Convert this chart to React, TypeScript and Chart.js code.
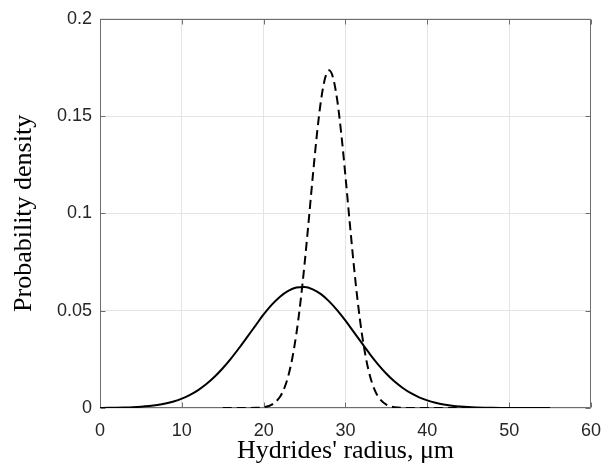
import React, { useEffect, useRef } from "react";
import { Chart, registerables } from "chart.js";

Chart.register(...registerables);

// Solid curve: x (µm) and probability density
const solidX = [
  0, 1, 2, 3, 4, 5, 6, 7, 8, 9, 10, 11, 12, 13, 14, 15, 16, 17, 18, 19, 20,
  21, 22, 23, 24, 25, 26, 27, 28, 29, 30, 31, 32, 33, 34, 35, 36, 37, 38, 39,
  40, 41, 42, 43, 44, 45, 46, 47, 48, 49, 50, 51, 52, 53, 54, 55,
];
const solidY = [
  0.00005, 0.00008, 0.00014, 0.00024, 0.00039, 0.00063, 0.00099, 0.00153,
  0.0023, 0.00337, 0.00482, 0.00675, 0.00922, 0.01231, 0.01605, 0.02043,
  0.0254, 0.03084, 0.03657, 0.04235, 0.0481, 0.0531, 0.0572, 0.0602, 0.0619,
  0.0622, 0.061, 0.0585, 0.0548, 0.0502, 0.0449, 0.0391, 0.0333, 0.0276,
  0.0223, 0.0176, 0.0136, 0.0103, 0.0076, 0.0055, 0.0039, 0.0027, 0.0018,
  0.0012, 0.00076, 0.00047, 0.00029, 0.00017, 0.0001, 0.00006, 0.00003,
  0.00002, 0.00001, 0.00001, 0.0, 0.0,
];

// Dashed curve
const dashedX = [
  15, 16, 17, 18, 19, 20, 21, 22, 22.5, 23, 23.5, 24, 24.5, 25, 25.5, 26,
  26.5, 27, 27.5, 28, 28.5, 29, 29.5, 30, 30.5, 31, 31.5, 32, 32.5, 33, 33.5,
  34, 35, 36, 37, 38, 39, 40, 41, 42, 43, 44, 45,
];
const dashedY = [
  0.0, 0.0, 0.0, 0.00001, 0.00008, 0.00041, 0.00169, 0.00578, 0.00995,
  0.01633, 0.0256, 0.03824, 0.0545, 0.0741, 0.0961, 0.1189, 0.1403, 0.1579,
  0.1694, 0.1735, 0.1694, 0.1579, 0.1403, 0.1189, 0.0961, 0.0741, 0.0545,
  0.03824, 0.0256, 0.01633, 0.00995, 0.00578, 0.00169, 0.00041, 0.00008,
  0.00001, 0.0, 0.0, 0.0, 0.0, 0.0, 0.0, 0.0,
];

const xTicks = [0, 10, 20, 30, 40, 50, 60];
const yTicks = [0, 0.05, 0.1, 0.15, 0.2];
const yTickLabels = ["0", "0.05", "0.1", "0.15", "0.2"];

const xTitle = "Hydrides' radius, \u03bcm";
const yTitle = "Probability density";

const AXIS_COLOR = "#6e6e6e";
const TICK_LEN = 5;

const boxPlugin = {
  id: "matlabBox",
  beforeDatasetsDraw(chart: any) {
    const { ctx, chartArea, scales } = chart;
    const { left, right, top, bottom } = chartArea;
    ctx.save();
    ctx.strokeStyle = AXIS_COLOR;
    ctx.lineWidth = 1;
    ctx.beginPath();
    const L = Math.round(left) + 0.5;
    const R = Math.round(right) - 0.5;
    const T = Math.round(top) + 0.5;
    const B = Math.round(bottom) - 0.5;
    ctx.rect(L, T, R - L, B - T);
    // inward ticks
    xTicks.forEach((v) => {
      const px = Math.round(scales.x.getPixelForValue(v)) + 0.5;
      ctx.moveTo(px, B);
      ctx.lineTo(px, B - TICK_LEN);
      ctx.moveTo(px, T);
      ctx.lineTo(px, T + TICK_LEN);
    });
    yTicks.forEach((v) => {
      const py = Math.round(scales.y.getPixelForValue(v)) + 0.5;
      ctx.moveTo(L, py);
      ctx.lineTo(L + TICK_LEN, py);
      ctx.moveTo(R, py);
      ctx.lineTo(R - TICK_LEN, py);
    });
    ctx.stroke();
    ctx.restore();
  },
};

export default function App() {
  const canvasRef = useRef<HTMLCanvasElement | null>(null);

  useEffect(() => {
    if (!canvasRef.current) return;
    const tickFont = { family: "'Liberation Sans', Arial, sans-serif", size: 18 };
    const titleFont = {
      family: "'Liberation Serif', 'Times New Roman', serif",
      size: 26,
      lineHeight: 1,
    };
    const chart = new Chart(canvasRef.current, {
      type: "line",
      data: {
        datasets: [
          {
            label: "solid",
            data: solidX.map((x, i) => ({ x, y: solidY[i] })),
            borderColor: "#000000",
            borderWidth: 2,
            pointRadius: 0,
            cubicInterpolationMode: "monotone",
            fill: false,
          },
          {
            label: "dashed",
            data: dashedX.map((x, i) => ({ x, y: dashedY[i] })),
            borderColor: "#000000",
            borderWidth: 2,
            borderDash: [9, 5],
            pointRadius: 0,
            cubicInterpolationMode: "monotone",
            fill: false,
          },
        ],
      },
      options: {
        animation: false,
        responsive: false,
        devicePixelRatio: 1,
        layout: { padding: { top: 18, right: 20, left: 0, bottom: 0 } },
        plugins: {
          legend: { display: false },
          tooltip: { enabled: false },
        },
        scales: {
          x: {
            type: "linear",
            min: 0,
            max: 60,
            afterFit: (s: any) => {
              s.height = 57;
            },
            afterBuildTicks: (s: any) => {
              s.ticks = xTicks.map((v) => ({ value: v }));
            },
            ticks: {
              font: tickFont,
              color: "#262626",
              padding: 12,
              maxRotation: 0,
              callback: (v: any) => String(v),
            },
            grid: { color: "#e4e4e4", drawTicks: false, lineWidth: 1 },
            border: { display: false },
            title: {
              display: true,
              text: xTitle,
              font: titleFont,
              color: "#000000",
              padding: { top: 0, bottom: 1 },
            },
          },
          y: {
            type: "linear",
            min: 0,
            max: 0.2,
            afterFit: (s: any) => {
              s.width = 100;
            },
            afterBuildTicks: (s: any) => {
              s.ticks = yTicks.map((v) => ({ value: v }));
            },
            ticks: {
              font: tickFont,
              color: "#262626",
              padding: 8,
              callback: (_v: any, i: number) => yTickLabels[i],
            },
            grid: { color: "#e4e4e4", drawTicks: false, lineWidth: 1 },
            border: { display: false },
            title: {
              display: true,
              text: yTitle,
              font: titleFont,
              color: "#000000",
              padding: { top: 11, bottom: 0 },
            },
          },
        },
      },
      plugins: [boxPlugin],
    } as any);
    return () => chart.destroy();
  }, []);

  return (
    <div style={{ position: "absolute", left: 0, top: 0, width: 613, height: 465, background: "#ffffff" }}>
      <canvas ref={canvasRef} width={613} height={465} style={{ display: "block" }} />
    </div>
  );
}
